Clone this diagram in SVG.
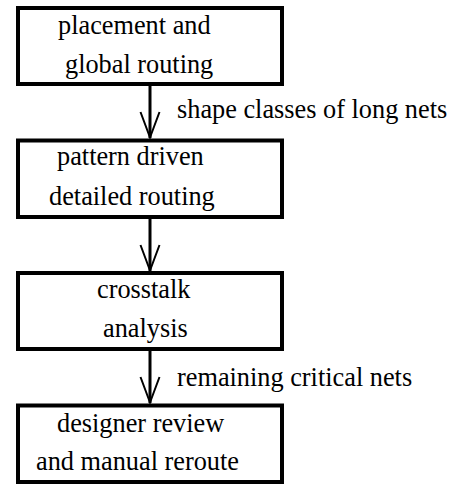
<svg xmlns="http://www.w3.org/2000/svg" width="454" height="485" viewBox="0 0 454 485">
<style>
.box{fill:#fff;stroke:#000;stroke-width:4}
.t{font-family:'Liberation Serif','Times New Roman',Times,serif;font-size:26.3px;fill:#000}
.ln{stroke:#000;stroke-width:3;fill:none}
.hd{stroke:#000;stroke-width:2;fill:none}
</style>
<rect width="454" height="485" fill="#fff"/>
<g id="connectors">
<line class="ln" x1="150" y1="86" x2="150" y2="138"/>
<polyline class="hd" points="140.5,112 150,137.5 159.5,112"/>
<line class="ln" x1="150" y1="219" x2="150" y2="271"/>
<polyline class="hd" points="140.5,245 150,270.5 159.5,245"/>
<line class="ln" x1="150" y1="351" x2="150" y2="403"/>
<polyline class="hd" points="140.5,377 150,402.5 159.5,377"/>
<text class="t" x="177" y="118">shape classes of long nets</text>
<text class="t" x="177" y="386">remaining critical nets</text>
</g>
<g id="node1">
<rect class="box" x="18" y="8" width="264" height="76"/>
<text class="t" x="58" y="34">placement and</text>
<text class="t" x="65" y="73">global routing</text>
</g>
<g id="node2">
<rect class="box" x="18" y="140.5" width="264" height="76.5"/>
<text class="t" x="57" y="165">pattern driven</text>
<text class="t" x="49" y="205">detailed routing</text>
</g>
<g id="node3">
<rect class="box" x="18" y="273" width="264" height="76"/>
<text class="t" x="97" y="298">crosstalk</text>
<text class="t" x="103" y="337">analysis</text>
</g>
<g id="node4">
<rect class="box" x="18" y="405.5" width="264" height="76.5"/>
<text class="t" x="57" y="432">designer review</text>
<text class="t" x="36" y="470">and manual reroute</text>
</g>
</svg>
